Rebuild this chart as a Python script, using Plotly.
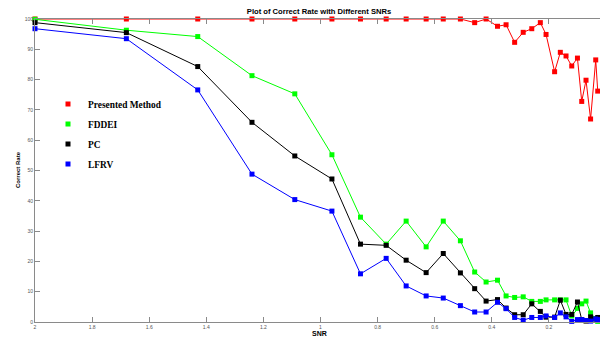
import plotly.graph_objects as go

snr = [2.0, 1.68, 1.43, 1.24, 1.09, 0.96, 0.86, 0.77, 0.70, 0.63, 0.57,
       0.51, 0.46, 0.42, 0.38, 0.35, 0.32, 0.29, 0.26, 0.23, 0.21, 0.18,
       0.16, 0.14, 0.12, 0.10, 0.085, 0.07, 0.054, 0.036, 0.029, 0.0]

presented = [100, 100, 100, 100, 100, 100, 100, 100, 100, 100, 100,
             100, 98.8, 100, 97.6, 98.1, 92.3, 95.6, 96.8, 98.8, 94.9, 82.6,
             89.0, 87.8, 84.5, 87.1, 72.8, 79.8, 67.0, 86.5, 76.2, 78.0]

fddei = [99.9, 96.3, 94.2, 81.3, 75.3, 55.2, 34.6, 25.7, 33.3, 24.8, 33.3,
         26.8, 16.5, 13.2, 13.8, 8.6, 8.1, 8.3, 6.8, 6.8, 7.3, 7.3,
         7.3, 7.3, 2.0, 4.5, 6.0, 6.9, 3.0, 1.0, 0.2, 1.7]

pc = [98.8, 95.5, 84.3, 65.9, 54.8, 47.2, 25.7, 25.3, 20.4, 16.3, 22.6,
      16.2, 11.0, 6.9, 7.4, 4.6, 2.4, 2.4, 6.0, 3.5, 1.6, 1.6,
      7.2, 2.5, 2.5, 6.6, 0.8, 0.3, 1.7, 1.0, 1.5, 1.5]

lfrv = [96.8, 93.5, 76.6, 48.8, 40.4, 36.6, 15.9, 21.0, 11.9, 8.6, 7.9,
        5.4, 3.3, 3.3, 6.5, 4.4, 1.5, 0.6, 1.5, 1.5, 2.0, 1.5,
        3.0, 1.7, 0.2, 0.8, 0.8, 0.5, 0.3, 1.0, 0.8, 1.7]

series = [
    ("Presented Method", presented, "#ff0000"),
    ("FDDEI", fddei, "#00ff00"),
    ("PC", pc, "#000000"),
    ("LFRV", lfrv, "#0000ff"),
]

x_ticks = [2, 1.8, 1.6, 1.4, 1.2, 1, 0.8, 0.6, 0.4, 0.2, 0]
x_tick_text = ["2", "1.8", "1.6", "1.4", "1.2", "1", "0.8", "0.6", "0.4", "0.2", "0"]
y_ticks = list(range(0, 101, 10))

fig = go.Figure()
for i, (name, vals, color) in enumerate(series):
    fig.add_trace(go.Scatter(
        x=snr, y=vals, mode="lines+markers", name=name,
        line=dict(color=color, width=1),
        marker=dict(symbol="square", size=5, color=color),
        showlegend=False, cliponaxis=False,
    ))
for i, (name, vals, color) in enumerate(series):
    fig.add_trace(go.Scatter(
        x=[None], y=[None], mode="markers", name=name,
        marker=dict(symbol="square", size=5, color=color),
        legendgroup=f"g{i}", showlegend=True,
    ))

axis_common = dict(
    showgrid=False, zeroline=False, showline=True, linecolor="#8a8a8a",
    linewidth=1, mirror="ticks", ticks="inside", ticklen=5, tickcolor="#8a8a8a",
    tickfont=dict(family="Arial", size=5, color="#555555"),
    automargin=False,
)

fig.update_xaxes(range=[2, 0], tickvals=x_ticks, ticktext=x_tick_text, **axis_common)
fig.update_yaxes(range=[0, 100], tickvals=y_ticks, **axis_common)

# page has an 8px body margin: figure occupies page x 8..608, y 8..337
W, H = 600, 329
L, T, R, B = 27, 11, 2, 15
PW, PH = W - L - R, H - T - B

fig.update_layout(
    width=W, height=H,
    margin=dict(l=L, r=R, t=T, b=B),
    paper_bgcolor="white", plot_bgcolor="white",
    title=dict(text="<b>Plot of Correct Rate with Different SNRs</b>",
               font=dict(family="Arial", size=7.6, color="#000"),
               x=(319 - 8) / W, xanchor="center", y=1 - (11 - 8) / H, yanchor="middle"),
    legend=dict(x=(48 - 35) / PW, y=1 - (89.5 - 19) / PH,
                xanchor="left", yanchor="top", bgcolor="rgba(0,0,0,0)",
                font=dict(family="Liberation Serif", size=9.4, color="#000", weight="bold"),
                tracegroupgap=1, itemclick=False),
    annotations=[
        dict(text="<b>SNR</b>", xref="paper", yref="paper", x=(319 - 35) / PW,
             y=-(333 - 322) / PH, xanchor="center", yanchor="middle", showarrow=False,
             font=dict(family="Arial", size=7, color="#000")),
        dict(text="<b>Correct Rate</b>", xref="paper", yref="paper", x=-(35 - 18) / PW,
             y=(322 - 170) / PH, xanchor="center", yanchor="middle", textangle=-90,
             showarrow=False, font=dict(family="Arial", size=6, color="#000")),
    ],
)

fig.write_html("out.html")
